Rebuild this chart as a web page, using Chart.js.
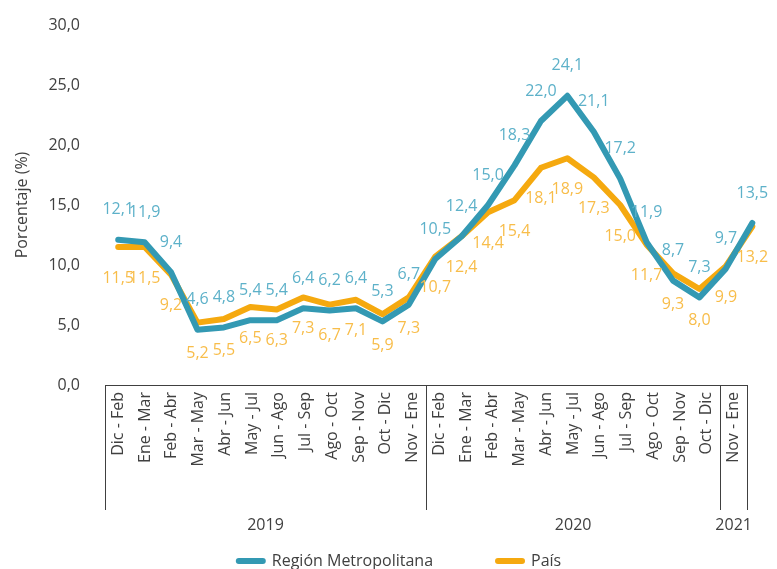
<!DOCTYPE html>
<html>
<head>
<meta charset="utf-8">
<script src="https://cdn.jsdelivr.net/npm/chart.js@4.4.0/dist/chart.umd.min.js"></script>
<style>
html, body { margin: 0; padding: 0; background: #fff; }
</style>
</head>
<body>
<canvas id="chart" width="777" height="569"></canvas>
<script>
// tick labels of the category axis (24 labels)
const categories = [
    'Dic - Feb', 'Ene - Mar', 'Feb - Abr', 'Mar - May', 'Abr - Jun', 'May - Jul',
    'Jun - Ago', 'Jul - Sep', 'Ago - Oct', 'Sep - Nov', 'Oct - Dic', 'Nov - Ene',
    'Dic - Feb', 'Ene - Mar', 'Feb - Abr', 'Mar - May', 'Abr - Jun', 'May - Jul',
    'Jun - Ago', 'Jul - Sep', 'Ago - Oct', 'Sep - Nov', 'Oct - Dic',
    'Nov - Ene',
];
const years = ['2019', '2020', '2021'];
const yearSizes = [12, 11, 1];

// series (25 values each, as plotted in the picture)
const metropolitana = [12.1, 11.9, 9.4, 4.6, 4.8, 5.4, 5.4, 6.4, 6.2, 6.4, 5.3, 6.7,
    10.5, 12.4, 15.0, 18.3, 22.0, 24.1, 21.1, 17.2, 11.9, 8.7, 7.3, 9.7, 13.5];
const pais = [11.5, 11.5, 9.2, 5.2, 5.5, 6.5, 6.3, 7.3, 6.7, 7.1, 5.9, 7.3,
    10.7, 12.4, 14.4, 15.4, 18.1, 18.9, 17.3, 15.0, 11.7, 9.3, 8.0, 9.9, 13.2];

const yMin = 0;
const yMax = 30;
const yStep = 5;

const textColor = '#404040';
const font = '"Open Sans", "DejaVu Sans", sans-serif';
const fmt = (v) => v.toFixed(1).replace('.', ',');
const toPoints = (arr) => arr.map((v, i) => ({ x: i, y: v }));

const decor = {
    id: 'decor',
    afterDatasetsDraw(chart) {
        const ctx = chart.ctx;
        ctx.save();
        ctx.font = '16px ' + font;
        ctx.textAlign = 'center';
        ctx.textBaseline = 'middle';
        chart.data.datasets.forEach((ds, di) => {
            const meta = chart.getDatasetMeta(di);
            ctx.fillStyle = ds.labelColor;
            meta.data.forEach((pt, i) => {
                ctx.fillText(fmt(ds.data[i].y), pt.x, pt.y + ds.labelShift);
            });
        });
        ctx.restore();
    },
    afterDraw(chart) {
        const { ctx, chartArea } = chart;
        const x = chart.scales.x;
        const step = x.getPixelForTick(1) - x.getPixelForTick(0);
        const top = chartArea.bottom;
        const bottom = top + 125;

        const edges = [chartArea.left];
        let n = 0;
        yearSizes.forEach((size, i) => {
            n += size;
            edges.push(i === yearSizes.length - 1 ? chartArea.right : x.getPixelForTick(n - 1) + step / 2);
        });

        ctx.save();
        ctx.strokeStyle = '#404040';
        ctx.lineWidth = 1;
        edges.forEach((ex) => {
            const px = Math.round(ex) + 0.5;
            ctx.beginPath();
            ctx.moveTo(px, top);
            ctx.lineTo(px, bottom);
            ctx.stroke();
        });
        ctx.fillStyle = textColor;
        ctx.font = '16px ' + font;
        ctx.textAlign = 'center';
        ctx.textBaseline = 'middle';
        years.forEach((yr, i) => {
            ctx.fillText(yr, (edges[i] + edges[i + 1]) / 2, top + 140);
        });

        // legend
        const boxW = 30;
        const gapText = 6;
        const gapItem = 62;
        const ly = top + 176;
        const items = chart.data.datasets.map((ds) => ({
            text: ds.label,
            color: ds.borderColor,
            w: boxW + gapText + ctx.measureText(ds.label).width,
        }));
        const total = items.reduce((s, it) => s + it.w, 0) + gapItem * (items.length - 1);
        let lx = chart.width / 2 + 10 - total / 2;
        ctx.textAlign = 'left';
        items.forEach((it) => {
            ctx.strokeStyle = it.color;
            ctx.lineWidth = 6;
            ctx.lineCap = 'round';
            ctx.beginPath();
            ctx.moveTo(lx + 3, ly);
            ctx.lineTo(lx + boxW - 3, ly);
            ctx.stroke();
            ctx.fillStyle = textColor;
            ctx.fillText(it.text, lx + boxW + gapText, ly);
            lx += it.w + gapItem;
        });
        ctx.restore();
    },
};

new Chart(document.getElementById('chart'), {
    type: 'line',
    data: {
        datasets: [
            {
                label: 'Región Metropolitana',
                data: toPoints(metropolitana),
                xAxisID: 'xData',
                borderColor: '#3399B3',
                backgroundColor: '#3399B3',
                labelColor: '#5DB1C9',
                labelShift: -30,
                borderWidth: 6,
                borderCapStyle: 'round',
                borderJoinStyle: 'round',
                pointRadius: 0,
                tension: 0,
                clip: false,
            },
            {
                label: 'País',
                data: toPoints(pais),
                xAxisID: 'xData',
                borderColor: '#F5A90F',
                backgroundColor: '#F5A90F',
                labelColor: '#F8BD4A',
                labelShift: 31,
                borderWidth: 6,
                borderCapStyle: 'round',
                borderJoinStyle: 'round',
                pointRadius: 0,
                tension: 0,
                clip: false,
                order: 1,
            },
        ],
    },
    options: {
        responsive: false,
        animation: false,
        layout: { padding: { top: 25, right: 30, left: 0, bottom: 0 } },
        scales: {
            xData: {
                type: 'linear',
                display: false,
                min: -0.5,
                max: 23.8,
            },
            x: {
                type: 'category',
                labels: categories,
                offset: true,
                grid: { display: false, drawTicks: false },
                border: { display: true, color: '#404040', width: 1 },
                ticks: {
                    autoSkip: false,
                    minRotation: 90,
                    maxRotation: 90,
                    padding: 7,
                    color: textColor,
                    font: { family: font, size: 16 },
                },
                afterFit: (s) => { s.height = 184; },
            },
            y: {
                min: yMin,
                max: yMax,
                grid: { display: false, drawTicks: false },
                border: { display: false },
                ticks: {
                    stepSize: yStep,
                    padding: 25,
                    color: textColor,
                    font: { family: font, size: 16 },
                    callback: (v) => fmt(v),
                },
                title: {
                    display: true,
                    text: 'Porcentaje (%)',
                    color: textColor,
                    font: { family: font, size: 16 },
                    padding: { top: 13, bottom: 0 },
                },
                afterFit: (s) => {
                    s.width = 105;
                    s.paddingTop = 10;
                    s.paddingBottom = 0;
                },
            },
        },
        plugins: {
            legend: { display: false },
            tooltip: { enabled: false },
        },
    },
    plugins: [decor],
});
</script>
</body>
</html>
